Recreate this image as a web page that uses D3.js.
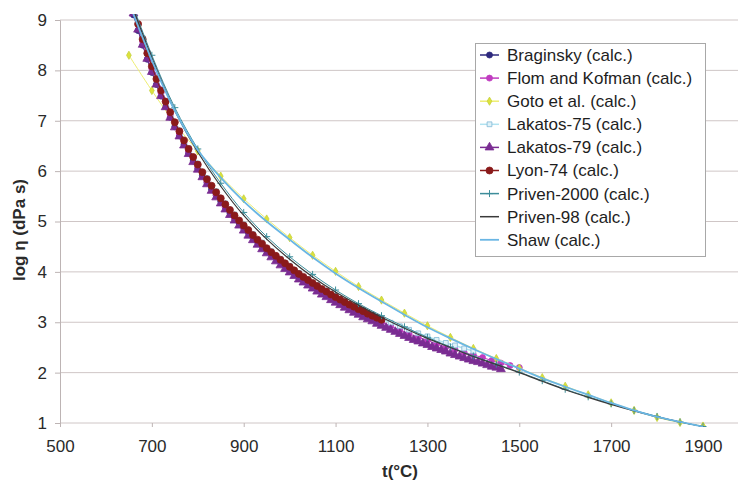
<!DOCTYPE html>
<html><head><meta charset="utf-8">
<script src="https://cdn.jsdelivr.net/npm/d3@7"></script>
<style>html,body{margin:0;padding:0;background:#fff;} svg{display:block;font-family:"Liberation Sans",Arial,sans-serif;}</style>
</head><body><svg id="c" width="738" height="482"></svg>
<script>
// ---- data ----
const temps10 = [660,670,680,690,700,710,720,730,740,750,760,770,780,790,800,810,820,830,840,850,860,870,880,890,900,910,920,930,940,950,960,970,980,990,1000,1010,1020,1030,1040,1050,1060,1070,1080,1090,1100,1110,1120,1130,1140,1150,1160,1170,1180,1190,1200,1210,1220,1230,1240,1250,1260,1270,1280,1290,1300,1310,1320,1330,1340,1350,1360,1370,1380,1390,1400,1410,1420,1430,1440,1450,1460];
const temps20 = [660,680,700,720,740,760,780,800,820,840,860,880,900,920,940,960,980,1000,1020,1040,1060,1080,1100,1120,1140,1160,1180,1200,1220,1240,1260,1280,1300,1320,1340,1360,1380,1400,1420,1440,1460,1480,1500];
const temps50 = [650,700,750,800,850,900,950,1000,1050,1100,1150,1200,1250,1300,1350,1400,1450,1500,1550,1600,1650,1700,1750,1800,1850,1900];

const braginsky = [9.10,8.79,8.50,8.22,7.96,7.72,7.49,7.28,7.07,6.88,6.70,6.53,6.36,6.20,6.05,5.91,5.77,5.64,5.52,5.40,5.28,5.17,5.07,4.97,4.87,4.78,4.69,4.60,4.51,4.43,4.35,4.28,4.20,4.13,4.06,3.99,3.93,3.87,3.81,3.75,3.69,3.63,3.58,3.52,3.47,3.42,3.37,3.33,3.28,3.24,3.19,3.15,3.11,3.07,3.03];
const flomKofman = [9.19,8.57,8.03,7.55,7.12,6.74,6.39,6.08,5.79,5.53,5.29,5.07,4.87,4.68,4.51,4.34,4.19,4.05,3.91,3.79,3.67,3.56,3.45,3.35,3.26,3.17,3.08,3.00,2.92,2.84,2.77,2.70,2.64,2.57,2.51,2.46,2.40,2.35,2.30,2.24,2.19,2.14,2.10];
const goto = [8.3,7.6,6.95,6.4,5.9,5.45,5.05,4.68,4.33,4.01,3.71,3.44,3.18,2.93,2.70,2.48,2.28,2.09,1.90,1.73,1.56,1.40,1.25,1.11,1.01,0.94];
const lakatos75 = [9.26,8.64,8.10,7.62,7.19,6.81,6.46,6.15,5.86,5.60,5.36,5.14,4.94,4.75,4.58,4.41,4.26,4.12,3.98,3.86,3.74,3.63,3.52,3.42,3.33,3.24,3.15,3.07,2.99,2.92,2.85,2.78,2.72,2.65,2.59,2.54,2.48,2.43];
const lakatos79 = [9.13,8.81,8.51,8.23,7.97,7.72,7.49,7.27,7.06,6.87,6.69,6.51,6.34,6.18,6.03,5.88,5.74,5.61,5.48,5.36,5.24,5.13,5.02,4.92,4.82,4.72,4.63,4.54,4.45,4.37,4.29,4.21,4.13,4.06,3.99,3.92,3.85,3.79,3.73,3.67,3.61,3.55,3.50,3.44,3.39,3.34,3.29,3.24,3.19,3.15,3.10,3.06,3.02,2.97,2.93,2.89,2.85,2.81,2.77,2.73,2.69,2.65,2.62,2.58,2.55,2.51,2.48,2.45,2.42,2.38,2.35,2.32,2.29,2.26,2.23,2.21,2.18,2.15,2.12,2.10,2.07];
const lyon74 = [9.24,8.92,8.62,8.34,8.08,7.83,7.60,7.38,7.17,6.97,6.79,6.61,6.44,6.28,6.13,5.98,5.84,5.71,5.58,5.46,5.34,5.23,5.12,5.02,4.92,4.83,4.73,4.64,4.56,4.47,4.39,4.32,4.24,4.17,4.10,4.03,3.96,3.90,3.84,3.78,3.72,3.66,3.61,3.55,3.50,3.45,3.40,3.35,3.31,3.26,3.22,3.17,3.13,3.09,3.05];
const priven2000 = [9.5,8.30,7.26,6.44,5.76,5.18,4.70,4.30,3.95,3.64,3.37,3.13,2.91,2.70,2.51,2.33,2.17,2.01,1.84,1.67,1.52,1.38,1.25,1.13,1.02,0.93];
const priven98 = [9.45,8.25,7.20,6.38,5.70,5.12,4.65,4.25,3.90,3.60,3.34,3.10,2.88,2.68,2.50,2.32,2.16,2.00,1.83,1.66,1.51,1.37,1.24,1.12,1.02,0.93];
const shaw = [9.35,8.20,7.20,6.42,5.87,5.40,5.00,4.64,4.29,3.97,3.68,3.41,3.15,2.90,2.68,2.47,2.27,2.08,1.89,1.72,1.56,1.40,1.25,1.12,1.02,0.93];

const seriesNames = ["Braginsky (calc.)","Flom and Kofman (calc.)","Goto et al. (calc.)","Lakatos-75 (calc.)","Lakatos-79 (calc.)","Lyon-74 (calc.)","Priven-2000 (calc.)","Priven-98 (calc.)","Shaw (calc.)"];
const xTicks = [500,700,900,1100,1300,1500,1700,1900];
const yTicks = [1,2,3,4,5,6,7,8,9];

// ---- series table ----
const series = [
  {name:seriesNames[0], t:temps10, v:braginsky, line:"#2e2a7e", lw:1, mark:"circle", r:3, fill:"#2e2a7e", stroke:"#2e2a7e"},
  {name:seriesNames[1], t:temps20, v:flomKofman, line:"#c03cc0", lw:1, mark:"circle", r:3, fill:"#c03cc0", stroke:"#c03cc0"},
  {name:seriesNames[2], t:temps50, v:goto, line:"#eeee70", lw:1, mark:"diamond", r:2.2, fill:"#dde23a", stroke:"#c4d040", smooth:true},
  {name:seriesNames[3], t:temps20, v:lakatos75, line:"#b0e2f0", lw:1.5, mark:"square", r:2.4, fill:"#dff2f8", stroke:"#80b8d6"},
  {name:seriesNames[4], t:temps10, v:lakatos79, line:"#7a2c92", lw:1, mark:"triangle", r:3.6, fill:"#7a2c92", stroke:"#7a2c92"},
  {name:seriesNames[5], t:temps10, v:lyon74, line:"#8a1a1a", lw:1, mark:"circle", r:3.5, fill:"#8a1a1a", stroke:"#8a1a1a"},
  {name:seriesNames[6], t:temps50, v:priven2000, line:"#3d8d9a", lw:1, mark:"plus", r:3.5, fill:"none", stroke:"#3d8d9a", smooth:true},
  {name:seriesNames[7], t:temps50, v:priven98, line:"#3a3a3a", lw:1.2, mark:null, smooth:true},
  {name:seriesNames[8], t:temps50, v:shaw, line:"#6ab6e4", lw:1.8, mark:null, smooth:true}
];

// ---- layout ----
const svg = d3.select("#c");
const x = d3.scaleLinear().domain([500,1900]).range([60,703]);
const y = d3.scaleLinear().domain([1,9]).range([423,20]);
const plotRight = 738;

svg.append("defs").append("clipPath").attr("id","clip")
  .append("rect").attr("x",60).attr("y",14).attr("width",plotRight-60).attr("height",413);

// gridlines
svg.append("g").selectAll("line").data(yTicks).join("line")
  .attr("x1",60).attr("x2",plotRight)
  .attr("y1",d=>y(d)).attr("y2",d=>y(d))
  .attr("stroke","#cfc6c6").attr("stroke-width",1);

// y axis
const yAxis = d3.axisLeft(y).tickValues(yTicks).tickSize(5).tickPadding(8).tickFormat(d3.format("d"));
const gy = svg.append("g").attr("transform","translate(60,0)").call(yAxis);
gy.select(".domain").attr("stroke","#bdb4b4");
gy.selectAll(".tick line").attr("stroke","#bdb4b4");
gy.selectAll(".tick text").attr("font-size",17).attr("fill","#2a2a2a").attr("font-family","Liberation Sans, Arial, sans-serif");

// x axis
const xAxis = d3.axisBottom(x).tickValues(xTicks).tickSize(4).tickPadding(13).tickFormat(d3.format("d"));
const gx = svg.append("g").attr("transform","translate(0,423)").call(xAxis);
gx.select(".domain").remove();
gx.selectAll(".tick line").attr("stroke","#bdb4b4");
gx.selectAll(".tick text").attr("font-size",17).attr("fill","#2a2a2a").attr("font-family","Liberation Sans, Arial, sans-serif");

// axis titles
svg.append("text").attr("x",400).attr("y",477).attr("text-anchor","middle")
  .attr("font-size",17).attr("font-weight","bold").attr("fill","#2a2a2a").text("t(°C)");
svg.append("text").attr("transform","translate(25,230) rotate(-90)").attr("text-anchor","middle")
  .attr("font-size",17).attr("font-weight","bold").attr("fill","#2a2a2a").text("log η (dPa s)");

// ---- marks ----
const symMap = {circle:d3.symbolCircle, diamond:d3.symbolDiamond, square:d3.symbolSquare, triangle:d3.symbolTriangle, plus:d3.symbolCross};
function drawMarker(g, s, cx, cy){
  if(!s.mark) return;
  if(s.mark==="plus"){
    g.append("path").attr("d",`M${cx-s.r},${cy}H${cx+s.r}M${cx},${cy-s.r}V${cy+s.r}`)
      .attr("stroke",s.stroke).attr("stroke-width",1).attr("fill","none");
  } else {
    const area = s.mark==="circle" ? Math.PI*s.r*s.r : (s.mark==="triangle" ? s.r*s.r*2.6 : s.r*s.r*4);
    g.append("path").attr("d",d3.symbol(symMap[s.mark], area)())
      .attr("transform",`translate(${cx},${cy})`)
      .attr("fill",s.fill).attr("stroke",s.stroke).attr("stroke-width",0.8);
  }
}

const plot = svg.append("g").attr("clip-path","url(#clip)");
series.forEach(s=>{
  const pts = s.t.slice(0, s.v.length).map((t,i)=>[t, s.v[i]]);
  const line = d3.line().x(d=>x(d[0])).y(d=>y(d[1])).curve(s.smooth ? d3.curveCatmullRom : d3.curveLinear);
  const g = plot.append("g");
  g.append("path").attr("d",line(pts)).attr("fill","none").attr("stroke",s.line).attr("stroke-width",s.lw);
  pts.forEach(p=>drawMarker(g, s, x(p[0]), y(p[1])));
});

// ---- legend ----
const lg = svg.append("g");
lg.append("rect").attr("x",475.5).attr("y",43.5).attr("width",230).attr("height",213)
  .attr("fill","#fff").attr("stroke","#a8a8a8").attr("stroke-width",1);
series.forEach((s,i)=>{
  const cy = 55 + i*23.1;
  lg.append("line").attr("x1",480).attr("x2",499).attr("y1",cy).attr("y2",cy)
    .attr("stroke",s.line).attr("stroke-width",Math.max(s.lw,1.5));
  drawMarker(lg, s, 489.5, cy);
  lg.append("text").attr("x",507).attr("y",cy).attr("dy","0.35em")
    .attr("font-size",17).attr("fill","#1e1e1e").text(s.name);
});
</script></body></html>
